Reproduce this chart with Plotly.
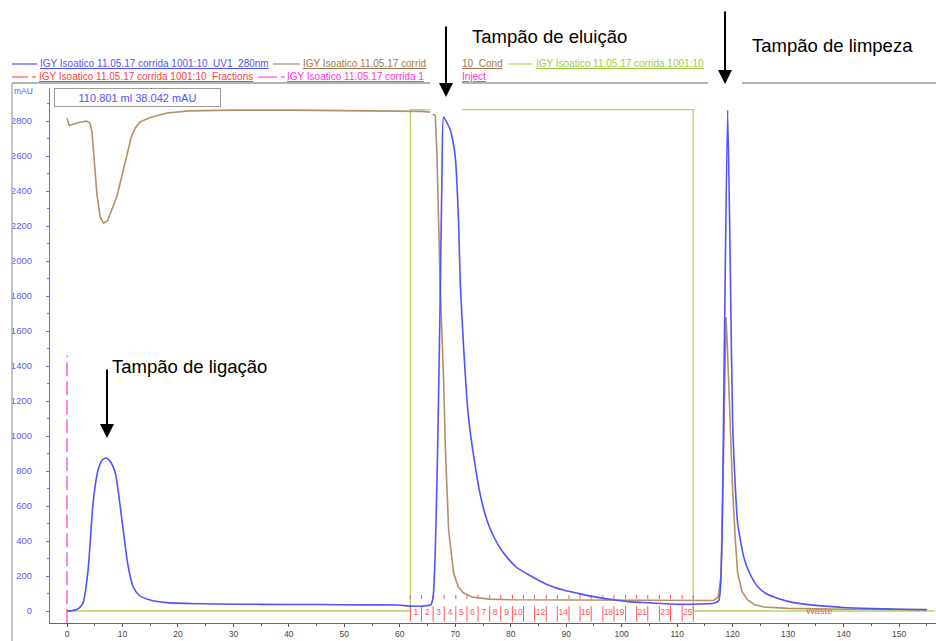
import plotly.graph_objects as go

# ---------------- data ----------------
uv_ml = [0, 1, 2, 2.9, 3.8, 4.7, 5.6, 6.3, 7.0, 7.8, 8.7, 9.5, 10.3, 11.0, 11.9, 13, 15, 18, 22, 27, 35, 45, 55,
         59.6, 62, 64.3, 65.6, 66.0, 66.4, 66.8, 67.3, 67.6, 67.9, 68.5, 69.1, 69.6, 70.0, 70.6, 70.9, 71.5, 72.3,
         73.5, 74.6, 75.8, 77, 78.5, 81, 83.6, 86.5, 89.5, 92.5, 95.7, 98.5, 101.6, 105, 110.8, 114, 116.6,
         117.5, 118.0, 118.5, 119.1, 119.6, 120.0, 120.5, 120.9, 122.0, 123, 124.5, 126, 128.2, 131, 135,
         140, 145, 150, 155]
uv_mau = [0, 2, 12, 46, 234, 617, 806, 860, 874, 855, 790, 620, 420, 260, 140, 90, 63, 48, 43, 40, 38, 37, 35,
          34, 28, 28, 36, 80, 350, 900, 1834, 2500, 2823, 2790, 2749, 2680, 2594, 2217, 1874, 1509, 1131,
          846, 650, 510, 420, 340, 250, 200, 152, 120, 98, 78, 64, 52, 47, 38, 40, 44,
          60, 300, 1500, 2863, 1900, 1074, 700, 503, 309, 220, 140, 100, 72, 48, 32,
          20, 14, 10, 7]

cond_ml = [0, 0.4, 1, 2, 3.5, 4.1, 4.5, 4.9, 5.4, 6.0, 6.6, 7.3, 8.2, 9.0, 10, 11.0, 11.6, 12.3, 13.2, 15, 18,
           22, 30, 40, 50, 60, 64, 65.6, 66.4, 66.7, 67.1, 67.3, 67.9, 68.2, 68.8, 69.7, 70.5, 71.5, 73, 76,
           80, 90, 100, 110, 116.6, 117.4, 117.9, 118.3, 118.6, 118.8, 119.0, 119.3, 120.0, 120.5, 120.9,
           121.7, 122.7, 124, 125.6, 130, 140, 155]
cond_val = [2815, 2775, 2780, 2790, 2800, 2790, 2740, 2560, 2380, 2250, 2215, 2230, 2300, 2370, 2500, 2640,
            2710, 2760, 2795, 2820, 2846, 2858, 2862, 2862, 2860, 2858, 2855, 2851, 2830, 2600, 2100, 1834,
            1320, 939, 463, 217, 140, 103, 80, 68, 64, 62, 60, 58, 60, 80, 200, 800, 1450, 1680, 1550, 1263,
            691, 400, 217, 110, 63, 35, 23, 15, 10, 8]

conc_ml = [0, 61.9, 61.9, 112.9, 112.9, 156.5]
conc_val = [0, 0, 2865, 2865, 0, 0]

frac_bounds = [61.9, 63.9, 66.0, 68.0, 70.1, 72.1, 74.1, 76.2, 78.2, 80.3, 82.3, 84.3, 86.4, 88.4, 90.5,
               92.5, 94.5, 96.6, 98.6, 100.7, 102.7, 104.7, 106.8, 108.8, 110.9, 112.9]
frac_shown = [1, 2, 3, 4, 5, 6, 7, 8, 9, 10, 12, 14, 16, 18, 19, 21, 23, 25]

inject_ml = 0.0
inject_top = 1460
waste_ml = 135.6

x_ticks = list(range(0, 151, 10))
y_ticks = list(range(0, 2801, 200))

# ---------------- layout helpers ----------------
W, H = 936, 641
L, R, T, B = 50, 0, 88, 18
PW, PH = W - L - R, H - T - B


def px(xp):
    return (xp - L) / PW


def py(yp):
    return (H - B - yp) / PH


BLUE = "#5252ff"
BROWN = "#b58f68"
GREEN = "#b2da5e"
RED = "#ff5555"
MAG = "#ff4fe8"
FONT = "Liberation Sans, Arial, sans-serif"

fig = go.Figure()

fig.add_trace(go.Scatter(x=conc_ml, y=conc_val, mode="lines", line=dict(color=GREEN, width=1.4),
                         hoverinfo="skip"))
fig.add_trace(go.Scatter(x=[inject_ml, inject_ml], y=[-70, inject_top], mode="lines",
                         line=dict(color=MAG, width=1.4, dash="14px,5px"), hoverinfo="skip"))

# fractions
fx, fy, mx, my = [], [], [], []
for b in frac_bounds:
    fx += [b, b, None]
    fy += [-60, 28, None]
    mx += [b, b, None]
    my += [68, 92, None]
fig.add_trace(go.Scatter(x=fx, y=fy, mode="lines", line=dict(color=RED, width=1), hoverinfo="skip"))
fig.add_trace(go.Scatter(x=mx, y=my, mode="lines", line=dict(color=RED, width=1), hoverinfo="skip"))
lab_x = [(frac_bounds[n - 1] + frac_bounds[n]) / 2 for n in frac_shown]
fig.add_trace(go.Scatter(x=lab_x, y=[-8] * len(lab_x), mode="text", text=[str(n) for n in frac_shown],
                         textfont=dict(color=RED, size=8.5, family=FONT), hoverinfo="skip"))
fig.add_trace(go.Scatter(x=[waste_ml], y=[-6], mode="text", text=["Waste"],
                         textfont=dict(color=RED, size=9.5, family=FONT), hoverinfo="skip"))

fig.add_trace(go.Scatter(x=cond_ml, y=cond_val, mode="lines", line=dict(color=BROWN, width=1.6),
                         hoverinfo="skip"))
fig.add_trace(go.Scatter(x=uv_ml, y=uv_mau, mode="lines", line=dict(color=BLUE, width=1.6, shape="spline",
                                                                     smoothing=0.6), hoverinfo="skip"))

x0 = -(67 - L) / 5.547
x1 = (W - 67) / 5.547
y0 = -(623 - 611) / 0.175
y1 = (611 - 88) / 0.175

fig.update_layout(
    width=W, height=H, margin=dict(l=L, r=R, t=T, b=B),
    paper_bgcolor="white", plot_bgcolor="white", showlegend=False,
    font=dict(family=FONT),
    xaxis=dict(range=[x0, x1], showgrid=False, zeroline=False, showline=True, linecolor="#666666",
               linewidth=1.2, ticks="outside", ticklen=3, tickcolor="#555555", tickvals=x_ticks,
               tickfont=dict(size=8.5, color="#444444"),
               minor=dict(tick0=0, dtick=5, ticks="outside", ticklen=2, tickcolor="#555555")),
    yaxis=dict(range=[y0, y1], showgrid=False, zeroline=False, showline=True, linecolor="#6a6aff",
               linewidth=1.2, ticks="outside", ticklen=3, tickcolor="#6a6aff", tickvals=y_ticks,
               tickfont=dict(size=9.5, color="#5b5bff"), ticklabelstandoff=12,
               minor=dict(tick0=0, dtick=100, ticks="outside", ticklen=2, tickcolor="#6a6aff")),
)

shapes = []
# frame lines
shapes.append(dict(type="line", xref="paper", yref="paper", x0=px(12), x1=px(936), y0=py(83), y1=py(83),
                   line=dict(color="#9a9a9a", width=1.5)))
shapes.append(dict(type="line", xref="paper", yref="paper", x0=px(12), x1=px(12), y0=py(83), y1=py(641),
                   line=dict(color="#b0b0b0", width=1.5)))
# legend glyph lines
leg_lines = [(12, 37, 64, BLUE), (273, 300, 64, BROWN), (508, 532, 64, GREEN),
             (12, 28, 77, RED), (32, 36, 77, RED),
             (258, 277, 77, MAG), (281, 285, 77, MAG)]
for a, b, yy, c in leg_lines:
    shapes.append(dict(type="line", xref="paper", yref="paper", x0=px(a), x1=px(b), y0=py(yy), y1=py(yy),
                       line=dict(color=c, width=1.2)))
# white covers behind the callout arrows
shapes.append(dict(type="rect", xref="paper", yref="paper", x0=px(430), x1=px(462), y0=py(114), y1=py(0),
                   fillcolor="white", line=dict(width=0), layer="above"))
shapes.append(dict(type="rect", xref="paper", yref="paper", x0=px(708), x1=px(742), y0=py(90), y1=py(0),
                   fillcolor="white", line=dict(width=0), layer="above"))
fig.update_layout(shapes=shapes)

ann = []


def text_ann(xp, yp, txt, color, size, xanchor="left", **kw):
    ann.append(dict(xref="paper", yref="paper", x=px(xp), y=py(yp), text=txt, showarrow=False,
                    xanchor=xanchor, yanchor="middle", font=dict(color=color, size=size, family=FONT), **kw))


# legend texts
text_ann(38, 64, "<u>IGY Isoatico 11.05.17 corrida 1001:10_UV1_280nm</u>", BLUE, 10)
text_ann(301, 64, "<u>IGY Isoatico 11.05.17 corrid</u>", "#a07850", 10)
text_ann(460, 64, "<u>10_Cond</u>", "#a07850", 10)
text_ann(534, 64, "<u>IGY Isoatico 11.05.17 corrida 1001:10</u>", "#9ccc40", 10)
text_ann(37, 77, "<u>IGY Isoatico 11.05.17 corrida 1001:10_Fractions</u>", "#ff4040", 10)
text_ann(285, 77, "<u>IGY Isoatico 11.05.17 corrida 1</u>", "#ff33e0", 10)
text_ann(460, 77, "<u>Inject</u>", "#ff33e0", 10)

# axis unit
text_ann(23, 91, "mAU", "#5b5bff", 8.5, xanchor="center")

# cursor readout box
ann.append(dict(xref="paper", yref="paper", x=px(137.5), y=py(97.5), text="110.801 ml 38.042 mAU",
                showarrow=False, xanchor="center", yanchor="middle", width=163, height=15,
                bgcolor="white", bordercolor="#9a9a9a", borderwidth=1, borderpad=1,
                font=dict(color=BLUE, size=11, family=FONT)))

# callouts
text_ann(470, 37, "Tampão de eluição", "black", 18.5)
text_ann(750, 46, "Tampão de limpeza", "black", 18.5)
text_ann(110, 366, "Tampão de ligação", "black", 18.5)

for xx, tip, top in [(446, 97, 25), (725, 84, 10), (107, 438, 368)]:
    ann.append(dict(xref="paper", yref="paper", x=px(xx), y=py(tip), ax=0, ay=-(tip - top), text="",
                    showarrow=True, arrowhead=2, arrowsize=1.4, arrowwidth=2, arrowcolor="black",
                    standoff=0))

fig.update_layout(annotations=ann)

fig.write_html("out.html", config={"displayModeBar": False},
               post_script="document.body.style.margin='0';document.body.style.padding='0';"
                           "document.documentElement.style.overflow='hidden';")
